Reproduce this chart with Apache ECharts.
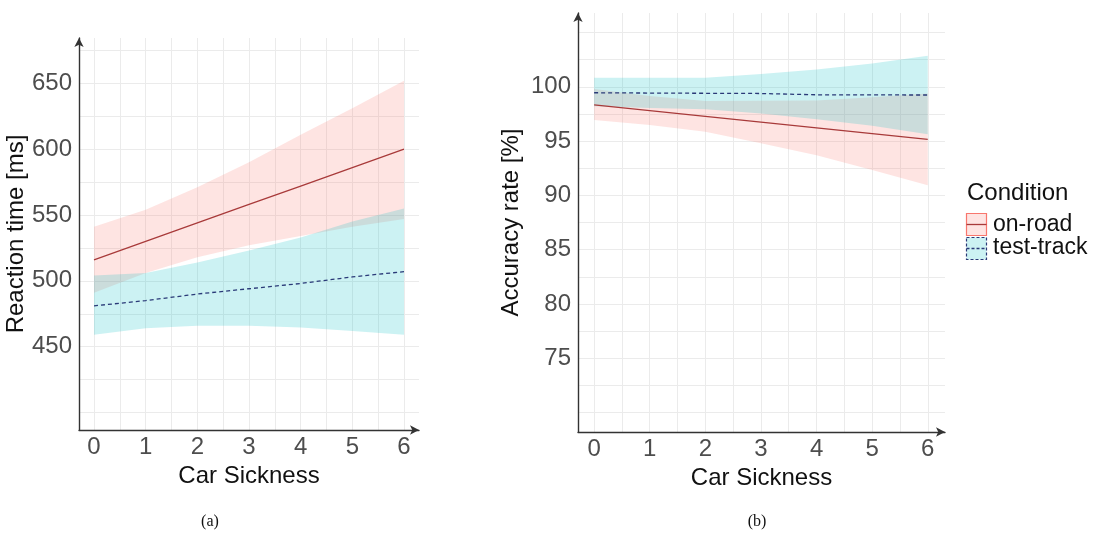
<!DOCTYPE html>
<html>
<head>
<meta charset="utf-8">
<script src="https://cdn.jsdelivr.net/npm/echarts@6/dist/echarts.min.js"></script>
<style>html,body{margin:0;padding:0;background:#fff;}#c{width:1107px;height:539px;}</style>
</head>
<body>
<div id="c"></div>
<script>
// ---- data ----
const carSickness = [0, 1, 2, 3, 4, 5, 6];
const xTickLabels = [0, 1, 2, 3, 4, 5, 6];
const xGridValues = [0, 0.5, 1, 1.5, 2, 2.5, 3, 3.5, 4, 4.5, 5, 5.5, 6];

const rtTickLabels = [450, 500, 550, 600, 650];
const rtGridValues = [400, 425, 450, 475, 500, 525, 550, 575, 600, 625, 650, 675];
const accTickLabels = [75, 80, 85, 90, 95, 100];
const accGridValues = [70, 72.5, 75, 77.5, 80, 82.5, 85, 87.5, 90, 92.5, 95, 97.5, 100, 102.5, 105];

// (a) Reaction time [ms]
const rtOnRoadFit  = [516, 530, 544, 558, 572, 586, 600];
const rtOnRoadLo   = [491, 506, 518, 527, 534, 541, 547];
const rtOnRoadHi   = [541, 554, 571, 590, 611, 631, 652];
const rtTrackFit   = [481, 485, 490, 494, 498, 503, 507];
const rtTrackLo    = [459, 464, 466, 466, 464.5, 462, 459];
const rtTrackHi    = [504, 506, 514, 523, 533, 545, 555];

// (b) Accuracy rate [%]
const accOnRoadFit = [98.34, 97.81, 97.28, 96.75, 96.22, 95.69, 95.16];
const accOnRoadLo  = [96.93, 96.47, 95.86, 94.79, 93.70, 92.34, 90.93];
const accOnRoadHi  = [99.80, 99.15, 98.70, 98.71, 98.74, 99.04, 99.39];
const accTrackFit  = [99.45, 99.42, 99.40, 99.38, 99.26, 99.25, 99.24];
const accTrackLo   = [98.20, 98.05, 97.93, 97.53, 97.02, 96.41, 95.63];
const accTrackHi   = [100.83, 100.82, 100.83, 101.17, 101.60, 102.15, 102.85];

const legendNames = ['on-road', 'test-track'];

// ---- styles ----
const PINK_FILL = 'rgba(248,118,109,0.2)';
const CYAN_FILL = 'rgba(0,191,196,0.2)';
const RED_LINE = '#a83a3a';
const BLUE_LINE = '#2a3a78';
const GRID_COLOR = '#ebebeb';
const AXIS_COLOR = '#333333';
const FONT = '"Liberation Sans", Arial, sans-serif';

function bandSeries(idx, xs, lo, hi, color) {
  return {
    type: 'custom', xAxisIndex: idx, yAxisIndex: idx, z: 1, silent: true,
    data: xs.map((x, i) => [x, lo[i], hi[i]]),
    encode: { x: 0, y: [1, 2] },
    renderItem: function (params, api) {
      if (params.dataIndex !== 0) return null;
      const pts = [];
      for (let i = 0; i < xs.length; i++) pts.push(api.coord([xs[i], hi[i]]));
      for (let i = xs.length - 1; i >= 0; i--) pts.push(api.coord([xs[i], lo[i]]));
      return { type: 'polygon', shape: { points: pts }, style: { fill: color } };
    }
  };
}
function lineSeries(idx, name, xs, ys, color, dashed) {
  return {
    type: 'line', name: name, xAxisIndex: idx, yAxisIndex: idx, z: 3, silent: true,
    data: xs.map((x, i) => [x, ys[i]]),
    showSymbol: false, symbol: 'none',
    lineStyle: { color: color, width: 1.3, type: dashed ? [4, 3] : 'solid' }
  };
}
function xAxisDef(idx, min, max, gap) {
  return {
    type: 'value', gridIndex: idx, min: min, max: max,
    name: 'Car Sickness', nameLocation: 'middle', nameGap: gap,
    nameTextStyle: { fontSize: 24, color: '#111', fontFamily: FONT },
    axisLine: { show: true, onZero: false, symbol: ['none', 'arrow'], symbolSize: [7, 9],
      lineStyle: { color: AXIS_COLOR, width: 1.4 } },
    axisTick: { show: false, customValues: xGridValues },
    axisLabel: { customValues: xTickLabels, fontSize: 24, color: '#4d4d4d', fontFamily: FONT, margin: 5 },
    splitLine: { show: true, lineStyle: { color: GRID_COLOR, width: 1 } }
  };
}
function yAxisDef(idx, min, max, name, gap, labels, grid) {
  return {
    type: 'value', gridIndex: idx, min: min, max: max,
    name: name, nameLocation: 'middle', nameGap: gap,
    nameTextStyle: { fontSize: 24, color: '#111', fontFamily: FONT },
    axisLine: { show: true, onZero: false, symbol: ['none', 'arrow'], symbolSize: [7, 9],
      lineStyle: { color: AXIS_COLOR, width: 1.4 } },
    axisTick: { show: false, customValues: grid },
    axisLabel: { customValues: labels, fontSize: 24, color: '#4d4d4d', fontFamily: FONT, margin: 7 },
    splitLine: { show: true, lineStyle: { color: GRID_COLOR, width: 1 } }
  };
}

const chart = echarts.init(document.getElementById('c'), null, { renderer: 'canvas' });
chart.setOption({
  animation: false,
  backgroundColor: '#ffffff',
  grid: [
    { left: 79, top: 38, width: 340, height: 392 },
    { left: 578, top: 13, width: 367, height: 419 }
  ],
  xAxis: [
    xAxisDef(0, -0.29, 6.29, 28),
    xAxisDef(1, -0.29, 6.31, 29)
  ],
  yAxis: [
    yAxisDef(0, 386.75, 684.4, 'Reaction time [ms]', 49, rtTickLabels, rtGridValues),
    yAxisDef(1, 68.22, 106.79, 'Accuracy rate [%]', 55, accTickLabels, accGridValues)
  ],
  series: [
    bandSeries(0, carSickness, rtOnRoadLo, rtOnRoadHi, PINK_FILL),
    bandSeries(0, carSickness, rtTrackLo, rtTrackHi, CYAN_FILL),
    lineSeries(0, legendNames[0], carSickness, rtOnRoadFit, RED_LINE, false),
    lineSeries(0, legendNames[1], carSickness, rtTrackFit, BLUE_LINE, true),
    bandSeries(1, carSickness, accOnRoadLo, accOnRoadHi, PINK_FILL),
    bandSeries(1, carSickness, accTrackLo, accTrackHi, CYAN_FILL),
    lineSeries(1, legendNames[0], carSickness, accOnRoadFit, RED_LINE, false),
    lineSeries(1, legendNames[1], carSickness, accTrackFit, BLUE_LINE, true)
  ],
  graphic: [
    { type: 'text', left: 967, top: 181, style: { text: 'Condition', fontSize: 24, fill: '#111', fontFamily: FONT } },
    { type: 'rect', shape: { x: 966.5, y: 213.5, width: 20, height: 22 },
      style: { fill: PINK_FILL, stroke: '#F8766D', lineWidth: 1.2 } },
    { type: 'line', shape: { x1: 966.5, y1: 224.5, x2: 986.5, y2: 224.5 },
      style: { stroke: RED_LINE, lineWidth: 1.3 } },
    { type: 'rect', shape: { x: 966.5, y: 237.5, width: 20, height: 22 },
      style: { fill: CYAN_FILL, stroke: BLUE_LINE, lineWidth: 1.2, lineDash: [3, 2] } },
    { type: 'line', shape: { x1: 966.5, y1: 248.5, x2: 986.5, y2: 248.5 },
      style: { stroke: BLUE_LINE, lineWidth: 1.3, lineDash: [3, 2] } },
    { type: 'text', left: 993, top: 213, style: { text: legendNames[0], fontSize: 23, fill: '#111', fontFamily: FONT } },
    { type: 'text', left: 993, top: 236, style: { text: legendNames[1], fontSize: 23, fill: '#111', fontFamily: FONT } },
    { type: 'text', x: 210, y: 522, style: { text: '(a)', fontSize: 16, fill: '#111', fontFamily: '"Liberation Serif", "Times New Roman", serif', align: 'center', verticalAlign: 'middle' } },
    { type: 'text', x: 757, y: 522, style: { text: '(b)', fontSize: 16, fill: '#111', fontFamily: '"Liberation Serif", "Times New Roman", serif', align: 'center', verticalAlign: 'middle' } }
  ]
});
</script>
</body>
</html>
